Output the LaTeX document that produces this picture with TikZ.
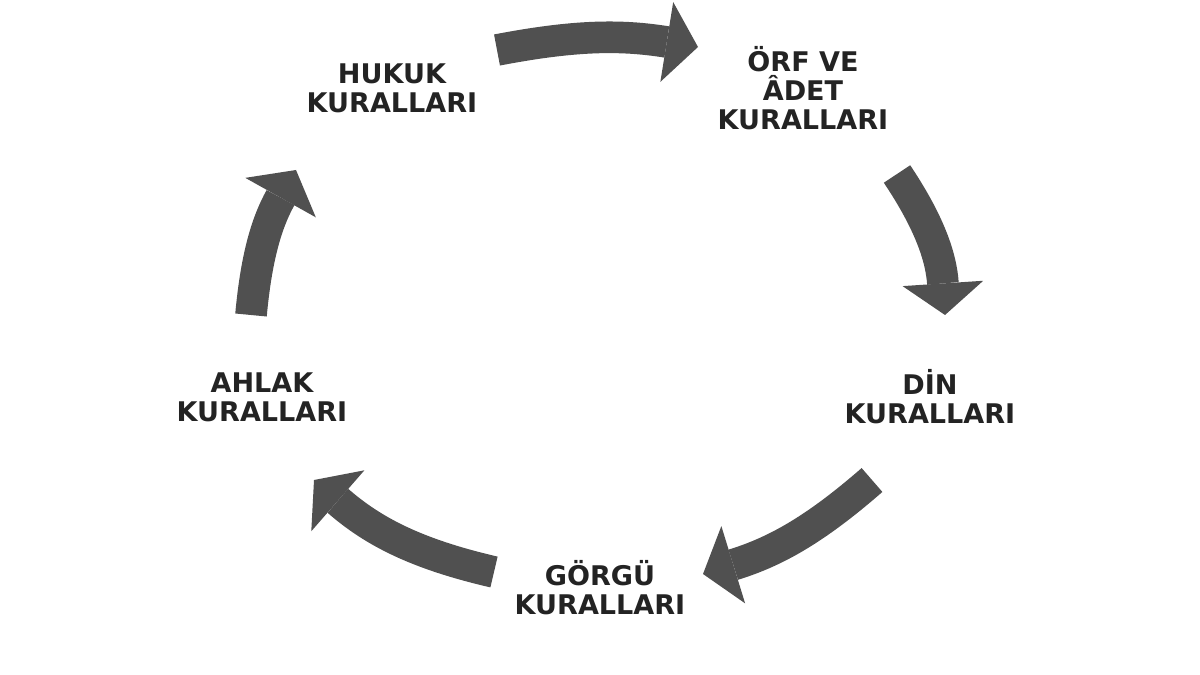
\documentclass[tikz,border=0pt]{standalone}
\usepackage{fontspec}
\setmainfont{DejaVu Sans}
\usetikzlibrary{arrows.meta}
\definecolor{arrowgray}{RGB}{80,80,80}
\definecolor{labelgray}{RGB}{35,35,35}

\begin{document}
\begin{tikzpicture}[x=0.02cm,y=-0.02cm,
lbl/.style={align=center,text=labelgray,font=\bfseries\fontsize{15.4}{16.5}\selectfont},
blockarrow/.style={draw=arrowgray,line width=18pt,-{Triangle[width=46pt,length=18pt,line width'=0pt]}}]
\useasboundingbox (0,0) rectangle (1200,675);
% labels
\node[lbl] (hukuk) at (392,88) {HUKUK\\KURALLARI};
\node[lbl] (orf) at (803,88) {ÖRF VE\\ÂDET\\KURALLARI};
\node[lbl] (din) at (930,397) {DİN\\KURALLARI};
\node[lbl] (gorgu) at (600,588) {GÖRGÜ\\KURALLARI};
\node[lbl] (ahlak) at (262,397) {AHLAK\\KURALLARI};
% arrow ends
\coordinate (a1s) at (497,50); \coordinate (a1e) at (698,47);
\coordinate (a2s) at (897,174); \coordinate (a2e) at (945,315);
\coordinate (a3s) at (872,480); \coordinate (a3e) at (703,574);
\coordinate (a4s) at (494,572); \coordinate (a4e) at (314,480);
\coordinate (a5s) at (251,315); \coordinate (a5e) at (296,170);
\foreach \s/\e/\b in {a1s/a1e/10,a2s/a2e/15,a3s/a3e/12,a4s/a4e/14,a5s/a5e/12} {
   \draw[blockarrow] (\s) to[bend left=\b] (\e);
}
\end{tikzpicture}
\end{document}
